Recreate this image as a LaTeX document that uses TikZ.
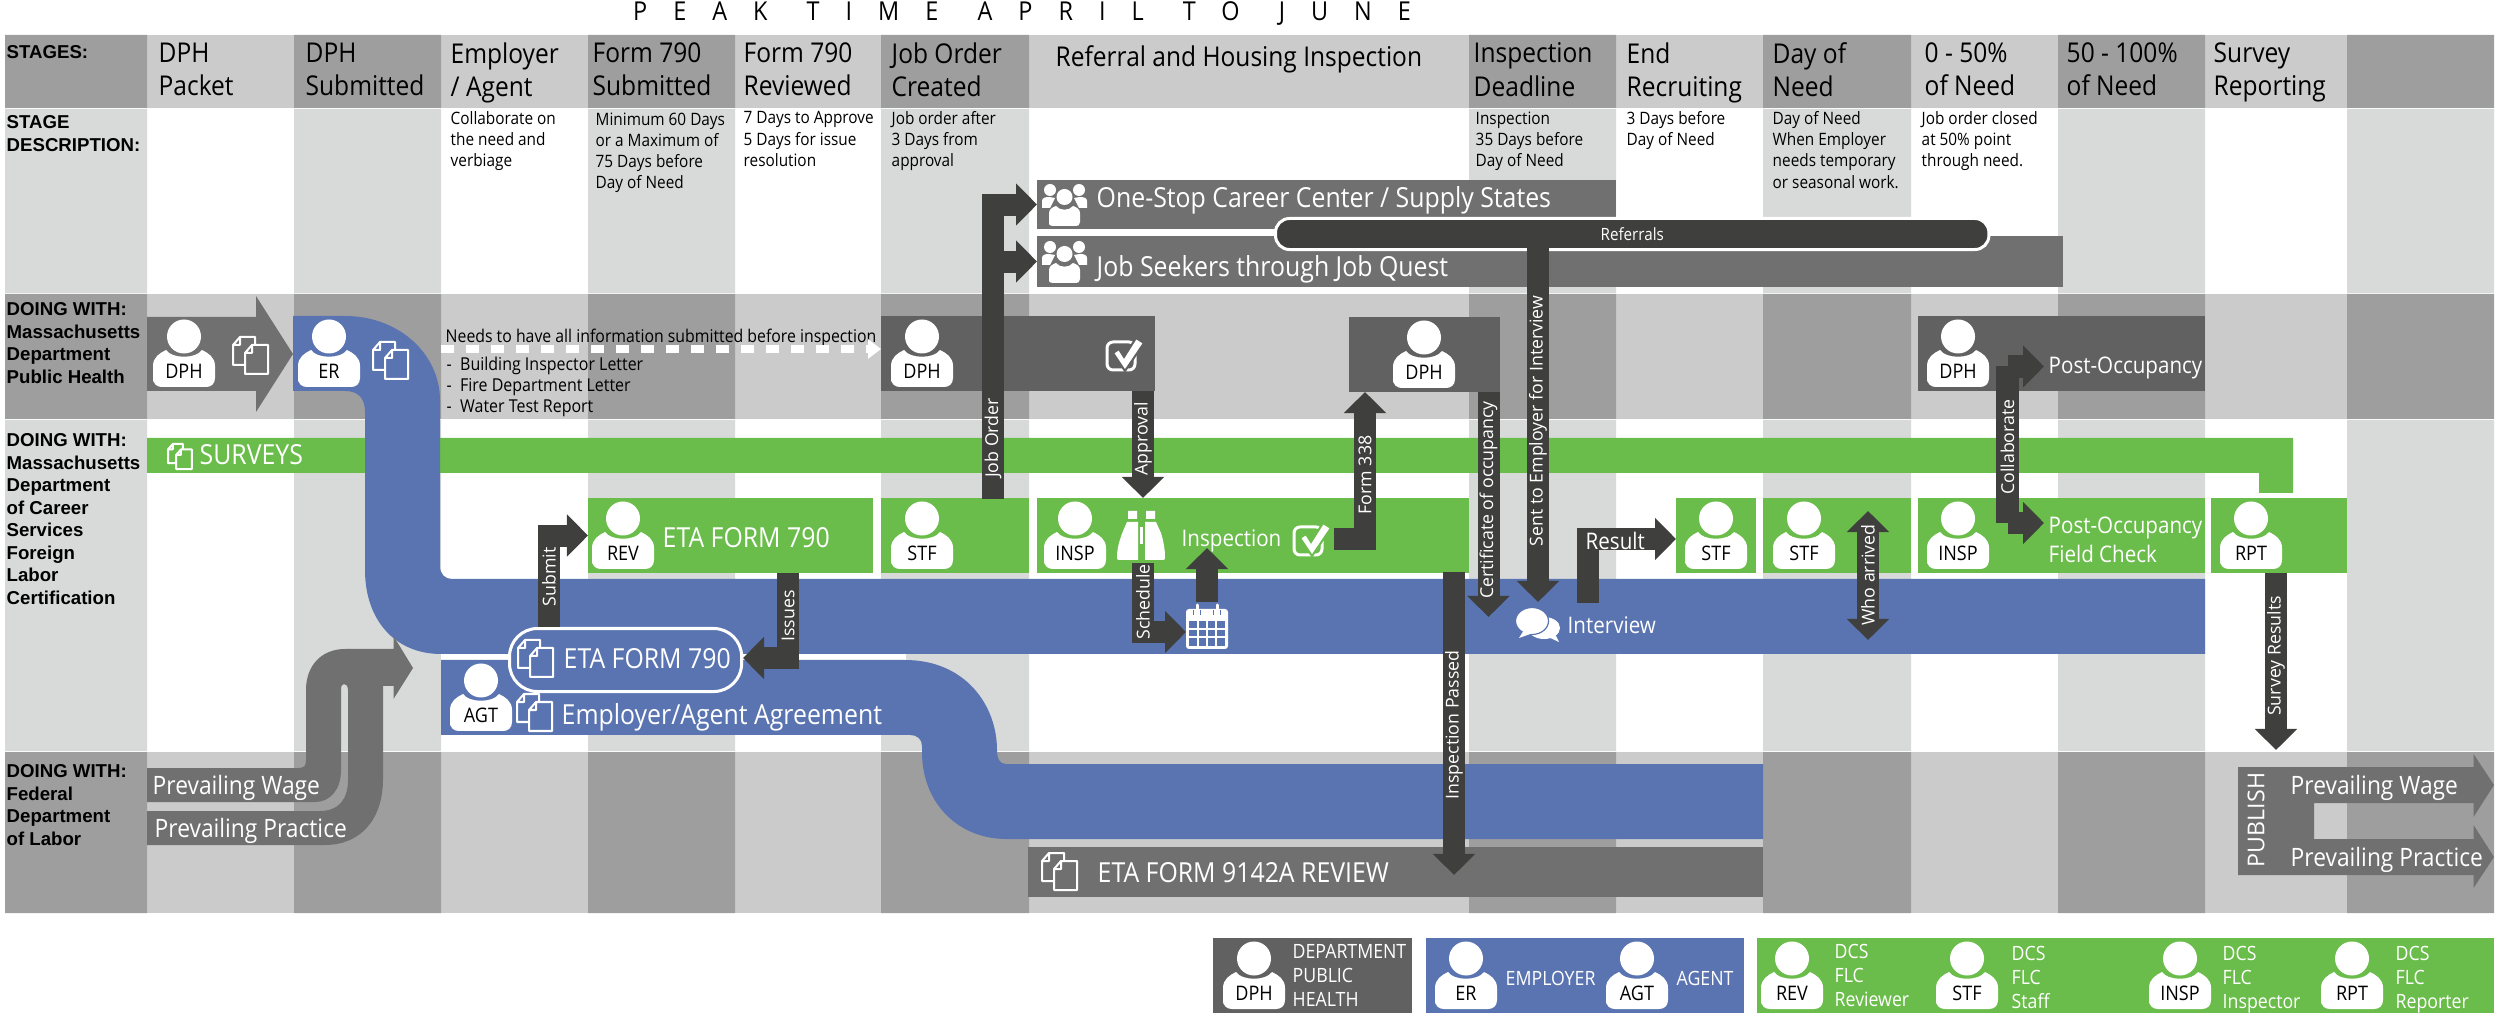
\documentclass[tikz,border=0pt]{standalone}
\usepackage{fontspec}
\usetikzlibrary{arrows.meta}
\setmainfont{Open Sans}[FakeStretch=0.9]
\newfontfamily\rowfont{Liberation Sans}
\newfontfamily\arrowfont{Open Sans}
\definecolor{hdrlight}{HTML}{CBCBCB}
\definecolor{hdrdark}{HTML}{9E9E9E}
\definecolor{colpale}{HTML}{D8DAD9}
\definecolor{boxgrey}{HTML}{616161}
\definecolor{bargrey}{HTML}{707070}
\definecolor{arrowdark}{HTML}{3F403E}
\definecolor{flowblue}{HTML}{5A74B1}
\definecolor{flowgreen}{HTML}{6ABD4A}
\tikzset{
  flowbox/.style={anchor=north west, inner sep=0pt, outer sep=0pt, minimum height=.75cm},
  greenbox/.style={flowbox, fill=flowgreen},
  greybox/.style={flowbox, fill=boxgrey},
  barbox/.style={flowbox, fill=bargrey},
  stagetext/.style={font=\fontsize{7.75}{9.5}\selectfont, align=left, anchor=north west, inner sep=0pt, execute at begin node=\strut},
  desctext/.style={font=\fontsize{4.85}{6}\selectfont, align=left, anchor=north west, inner sep=0pt, execute at begin node=\strut},
  rowtext/.style={font=\rowfont\bfseries\fontsize{5.3}{6.4}\selectfont, align=left, anchor=north west, inner sep=0pt, execute at begin node=\strut},
  bartext/.style={font=\fontsize{7.85}{9}\selectfont, text=white, inner sep=0pt, anchor=mid west},
  midbar/.style={bartext, font=\fontsize{7.2}{9}\selectfont},
  smallbar/.style={bartext, font=\fontsize{6.5}{8}\selectfont},
  legendtext/.style={font=\fontsize{5.6}{6.8}\selectfont, text=white, align=left, inner sep=0pt, anchor=north west, execute at begin node=\strut},
  arrowtext/.style={font=\arrowfont\fontsize{5.05}{6}\selectfont, text=white, inner sep=0pt, rotate=90},
  personlabel/.style={font=\fontsize{5.7}{7}\selectfont, text=black, inner sep=0pt},
  blockarrow/.style={draw=arrowdark, line width=.22cm, -{Triangle[width=.41cm,length=.21cm]}},
}
% person icon: name, centre x, top y, label
\newcommand{\personicon}[4]{%
  \begin{scope}[shift={(#2,#3)}]
    \fill[white] (0,16.5) ellipse [x radius=17, y radius=17];
    \fill[white] (-31,62) -- (-31,46) .. controls (-31,37) and (-24,33) .. (-18,30) .. controls (-12,39) and (12,39) .. (18,30) .. controls (24,33) and (31,37) .. (31,46) -- (31,58) .. controls (31,64) and (27,67) .. (22,67) -- (-22,67) .. controls (-27,67) and (-31,64) .. (-31,58) -- cycle;
    \node[personlabel] (#1) at (0,51) {#4};
  \end{scope}}
% two pages icon: left x, top y, scale
\newcommand{\docsicon}[3]{%
  \begin{scope}[shift={(#1,#2)}, scale=#3]
    \draw[white, line width=.02cm, line join=round] (12,28) -- (0,28) -- (0,8) -- (7,0) -- (22,0) -- (22,8) (7,0) -- (7,8) -- (0,8);
    \draw[white, line width=.02cm, line join=round] (12,16) -- (19,8) -- (35,8) -- (35,37) -- (12,37) -- cycle (19,8) -- (19,16) -- (12,16);
  \end{scope}}
% check box icon: left x, top y, background
\newcommand{\checkicon}[3]{%
  \begin{scope}[shift={(#1,#2)}]
    \draw[white, line width=.03cm, rounded corners=.06cm] (1,4) rectangle (29,32);
    \fill[white, draw=#3, line width=.02cm] (7,15) -- (13,11) -- (18,19) -- (30,0) -- (38,5) -- (19,33) -- cycle;
  \end{scope}}
% group icon: left x, top y
\newcommand{\groupicon}[2]{%
  \begin{scope}[shift={(#1,#2)}]
    \fill[white] (8,6) circle [radius=6] (37,6) circle [radius=6];
    \fill[white] (0,24) -- (0,17) .. controls (0,14) and (3,13) .. (7,13) -- (13,14) -- (8,24) -- cycle;
    \fill[white] (45,24) -- (45,17) .. controls (45,14) and (42,13) .. (38,13) -- (32,14) -- (37,24) -- cycle;
    \fill[white] (22.5,13) circle [radius=8];
    \fill[white] (7,40) -- (7,29) .. controls (7,25) and (11,23) .. (14,22) .. controls (18,27) and (27,27) .. (31,22) .. controls (34,23) and (38,25) .. (38,29) -- (38,38) .. controls (38,41) and (36,42) .. (34,42) -- (11,42) .. controls (9,42) and (7,41) .. (7,40) -- cycle;
  \end{scope}}

\begin{document}
\begin{tikzpicture}[x=.01cm, y=-.01cm]
  \useasboundingbox (0,0) rectangle (2500,1013);
  % Title
  \node[font=\fontsize{7.4}{9}\selectfont\addfontfeature{LetterSpace=100}, inner sep=0pt] (peak) at (1022,14) {PEAK\hspace{2pt} TIME\hspace{2pt} APRIL\hspace{2pt} TO\hspace{2pt} JUNE};
  % Grid - stages
  \fill[hdrlight] (5,35) rectangle (2494,108);
  \fill[hdrdark] (5,35) rectangle (147,108) (294,35) rectangle (441,108) (588,35) rectangle (735,108) (881,35) rectangle (1029,108) (1469,35) rectangle (1616,108) (1763,35) rectangle (1911,108) (2058,35) rectangle (2205,108) (2347,35) rectangle (2494,108);
  % Grid - description
  \fill[colpale] (5,109) rectangle (147,293) (294,109) rectangle (441,293) (588,109) rectangle (735,293) (881,109) rectangle (1029,293) (1469,109) rectangle (1616,293) (1763,109) rectangle (1911,293) (2058,109) rectangle (2205,293) (2347,109) rectangle (2494,293);
  % Grid - public health
  \fill[hdrlight] (5,294) rectangle (2494,419);
  \fill[hdrdark] (5,294) rectangle (147,419) (294,294) rectangle (441,419) (588,294) rectangle (735,419) (881,294) rectangle (1029,419) (1469,294) rectangle (1616,419) (1763,294) rectangle (1911,419) (2058,294) rectangle (2205,419) (2347,294) rectangle (2494,419);
  % Grid - career services
  \fill[colpale] (5,420) rectangle (147,751) (294,420) rectangle (441,751) (588,420) rectangle (735,751) (881,420) rectangle (1029,751) (1469,420) rectangle (1616,751) (1763,420) rectangle (1911,751) (2058,420) rectangle (2205,751) (2347,420) rectangle (2494,751);
  % Grid - labor
  \fill[hdrlight] (5,752) rectangle (2494,913);
  \fill[hdrdark] (5,752) rectangle (147,913) (294,752) rectangle (441,913) (588,752) rectangle (735,913) (881,752) rectangle (1029,913) (1469,752) rectangle (1616,913) (1763,752) rectangle (1911,913) (2058,752) rectangle (2205,913) (2347,752) rectangle (2494,913);

  % Row titles
  \node[rowtext] (rowstages) at (6,42) {STAGES:};
  \node[rowtext] (rowdesc) at (6,115) {STAGE\\DESCRIPTION:};
  \node[rowtext] (rowhealth) at (6,302) {DOING WITH:\\Massachusetts\\Department\\Public Health};
  \node[rowtext] (rowcareer) at (6,433) {DOING WITH:\\Massachusetts\\Department\\of Career\\Services\\Foreign\\Labor\\Certification};
  \node[rowtext] (rowlabor) at (6,764) {DOING WITH:\\Federal\\Department\\of Labor};

  % Stages
  \node[stagetext] (packet) at (158,42) {DPH\\Packet};
  \node[stagetext] (submitted) at (305,42) {DPH\\Submitted};
  \node[stagetext] (employer) at (450,42) {Employer\\/ Agent};
  \node[stagetext] (formsub) at (592,42) {Form 790\\Submitted};
  \node[stagetext] (formrev) at (743,42) {Form 790\\Reviewed};
  \node[stagetext] (joborder) at (891,42) {Job Order\\Created};
  \node[stagetext] (referral) at (1055,42) {Referral and Housing Inspection};
  \node[stagetext] (deadline) at (1473,42) {Inspection\\Deadline};
  \node[stagetext] (recruit) at (1626,42) {End\\Recruiting};
  \node[stagetext] (dayneed) at (1772,42) {Day of\\Need};
  \node[stagetext] (halfneed) at (1924,42) {0 - 50\%\\of Need};
  \node[stagetext] (fullneed) at (2066,42) {50 - 100\%\\of Need};
  \node[stagetext] (survey) at (2213,42) {Survey\\Reporting};

  % Stage descriptions
  \node[desctext] (descemp) at (450,111) {Collaborate on\\the need and\\verbiage};
  \node[desctext] (descsub) at (595,112) {Minimum 60 Days\\or a Maximum  of\\75 Days before\\Day of Need};
  \node[desctext] (descrev) at (743,111) {7 Days to Approve\\5 Days for issue\\resolution};
  \node[desctext] (descjob) at (891,111) {Job order after\\3 Days from\\approval};
  \node[desctext] (descinsp) at (1475,111) {Inspection\\35 Days before\\Day of Need};
  \node[desctext] (descend) at (1626,111) {3 Days before\\Day of Need};
  \node[desctext] (descday) at (1772,111) {Day of Need\\When Employer\\needs temporary\\or seasonal work.};
  \node[desctext] (deschalf) at (1921,111) {Job order closed\\at 50\% point\\through need.};

  % Surveys
  \fill[flowgreen] (147,438) -- (2293,438) -- (2293,493) -- (2259,493) -- (2259,473) -- (147,473) -- cycle;
  \docsicon{168}{444}{.68}
  \node[bartext] (surveys) at (199,455) {SURVEYS};

  % Employer flow
  \fill[flowblue] (293,316) -- (345,316) .. controls (400,316) and (440,355) .. (440,400) -- (440,566) .. controls (440,574) and (445,579) .. (452,579) -- (2205,579) -- (2205,654) -- (441,654) .. controls (395,654) and (365,620) .. (365,570) -- (365,412) .. controls (365,398) and (358,391) .. (345,391) -- (293,391) -- cycle;
  \fill[white] (441,654) rectangle (906,660);
  % Agent flow
  \fill[flowblue] (441,660) -- (905,660) .. controls (965,660) and (997,705) .. (997,750) .. controls (997,759) and (1000,764) .. (1006,764) -- (1763,764) -- (1763,839) -- (1006,839) .. controls (960,839) and (922,805) .. (922,752) -- (922,746) .. controls (922,739) and (917,735) .. (910,735) -- (441,735) -- cycle;

  % Public health
  \fill[bargrey] (147,317) -- (256,317) -- (256,296) -- (293,354) -- (256,412) -- (256,391) -- (147,391) -- cycle;
  \personicon{dphpacket}{184}{320}{DPH}
  \docsicon{233}{337}{1}
  \personicon{er}{329}{320}{ER}
  \docsicon{373}{342}{1}
  \node[greybox, minimum width=2.74cm] (dphjob) at (881,316) {};
  \personicon{dphjobicon}{922}{320}{DPH}
  \checkicon{1106}{338}{boxgrey}
  \node[greybox, minimum width=1.51cm] (dphform) at (1349,317) {};
  \personicon{dphformicon}{1424}{321}{DPH}
  \node[greybox, minimum width=2.87cm] (dphpost) at (1918,316) {};
  \personicon{dphposticon}{1958}{320}{DPH}
  \node[smallbar] (postocc) at (2048,364) {Post-Occupancy};

  % Needs note
  \node[desctext, font=\fontsize{5}{6}\selectfont, anchor=mid west, execute at begin node={}] (needs) at (445,333) {Needs to have all information submitted before inspection};
  \node[desctext, font=\fontsize{5.05}{6}\selectfont] (letters) at (446,356) {-~ Building Inspector Letter\\-~ Fire Department Letter\\-~ Water Test Report};
  \coordinate (needsstart) at (441,349);
  \draw[white, line width=.08cm, dash pattern=on .13cm off .12cm, -{Triangle[width=.19cm,length=.13cm]}] (needsstart) -- (dphjob.west |- needsstart);

  % Referrals
  \node[barbox, minimum width=5.79cm, minimum height=.49cm] (onestop) at (1037,180) {};
  \groupicon{1042}{184}
  \node[bartext] (onestoptext) at (1096,198) {One-Stop Career Center / Supply States};
  \node[barbox, minimum width=10.25cm, minimum height=.51cm] (seekers) at (1037,236) {};
  \groupicon{1042}{241}
  \node[bartext] (seekerstext) at (1096,267) {Job Seekers through Job Quest};
  \node[draw=white, fill=arrowdark, line width=.03cm, rounded corners=.14cm, anchor=north west, inner sep=0pt, minimum width=7.13cm, minimum height=.31cm, font=\fontsize{4.8}{6}\selectfont, text=white] (referrals) at (1274,217) {Referrals};

  % Career services boxes
  \node[greenbox, minimum width=2.85cm] (rev) at (588,498) {};
  \personicon{revicon}{623}{502}{REV}
  \node[bartext] (revtext) at (662,538) {ETA FORM 790};
  \node[greenbox, minimum width=1.48cm] (stfjob) at (881,498) {};
  \personicon{stfjobicon}{922}{502}{STF}
  \node[greenbox, minimum width=4.32cm] (insp) at (1037,498) {};
  \personicon{inspicon}{1075}{502}{INSP}
  % binoculars
  \begin{scope}[shift={(1117,511)}]
    \fill[white] (11,0) rectangle (20,8) (29,0) rectangle (38,8);
    \fill[white] (10,11) -- (21,11) -- (21,49) -- (2,49) .. controls (0,49) and (0,48) .. (0,46) .. controls (0,34) and (5,22) .. (10,11) -- cycle;
    \fill[white] (28,11) -- (39,11) -- (44,22) .. controls (47,32) and (48,40) .. (48,46) .. controls (48,48) and (48,49) .. (46,49) -- (28,49) -- cycle;
    \fill[white] (23,16) rectangle (26,33);
  \end{scope}
  \node[smallbar] (insptext) at (1181,537) {Inspection};
  \checkicon{1293}{523}{flowgreen}
  \node[greenbox, minimum width=.80cm] (stfresult) at (1676,498) {};
  \personicon{stfresulticon}{1716}{502}{STF}
  \node[greenbox, minimum width=1.48cm] (stfneed) at (1763,498) {};
  \personicon{stfneedicon}{1804}{502}{STF}
  \node[greenbox, minimum width=2.87cm] (inspfield) at (1918,498) {};
  \personicon{inspfieldicon}{1958}{502}{INSP}
  \node[smallbar] (fieldtop) at (2048,524) {Post-Occupancy};
  \node[smallbar] (fieldbottom) at (2048,553) {Field Check};
  \node[greenbox, minimum width=1.36cm] (rpt) at (2211,498) {};
  \personicon{rpticon}{2251}{502}{RPT}

  % Blue band contents
  \node[draw=white, fill=flowblue, line width=.03cm, rounded corners=.28cm, anchor=north west, inner sep=0pt, minimum width=2.32cm, minimum height=.63cm] (etapill) at (508,627) {};
  \docsicon{518}{640}{1}
  \node[bartext] (etatext) at (563,659) {ETA FORM 790};
  \personicon{agt}{481}{664}{AGT}
  \docsicon{517}{694}{1}
  \node[bartext] (agreement) at (561,715) {Employer/Agent Agreement};
  % calendar
  \begin{scope}[shift={(1186,604)}]
    \fill[white, rounded corners=.03cm] (0,5) rectangle (42,45);
    \fill[flowblue] (3,17) rectangle (39,42);
    \draw[white, line width=.015cm] (12,17) -- (12,42) (21,17) -- (21,42) (30,17) -- (30,42) (3,25) -- (39,25) (3,33) -- (39,33);
    \draw[white, line width=.03cm, line cap=round] (11,1) -- (11,10) (31,1) -- (31,10);
    \draw[flowblue, line width=.01cm] (7.5,6) -- (7.5,11) (14.5,6) -- (14.5,11) (27.5,6) -- (27.5,11) (34.5,6) -- (34.5,11);
  \end{scope}
  % speech bubbles
  \begin{scope}[shift={(1516,608)}]
    \fill[white] (28,20) ellipse [x radius=16, y radius=11];
    \fill[white] (30,28) -- (43,34) -- (38,24) -- cycle;
    \fill[white, draw=flowblue, line width=.012cm] (16,13) ellipse [x radius=16.5, y radius=13.5];
    \fill[white] (8,22) -- (3,30) -- (17,25) -- cycle;
  \end{scope}
  \node[smallbar] (interview) at (1567,624) {Interview};

  % Prevailing flows
  \fill[bargrey] (147,768) -- (298,768) .. controls (304,768) and (306,766) .. (306,760) -- (306,690) .. controls (306,665) and (322,649) .. (345,649) -- (393.5,649) -- (393.5,636) -- (413,668) -- (393.5,699) -- (393.5,686) -- (383,686) -- (383,779) .. controls (383,820) and (360,845) .. (325,845) -- (147,845) -- (147,811) -- (320,811) .. controls (338,811) and (348,800) .. (348,780) -- (348,690) .. controls (348,686) and (346,684) .. (344,684) .. controls (342,684) and (341,686) .. (341,690) -- (341,770) .. controls (341,790) and (330,802) .. (315,802) -- (147,802) -- cycle;
  \node[midbar] (wage) at (152,785) {Prevailing Wage};
  \node[midbar] (practice) at (154,828) {Prevailing Practice};
  \node[barbox, minimum width=7.35cm, minimum height=.50cm] (review) at (1028,847) {};
  \docsicon{1042}{853}{1}
  \node[bartext] (reviewtext) at (1097,873) {ETA FORM 9142A REVIEW};

  % Publish
  \fill[bargrey] (2238,767) -- (2473.5,767) -- (2473.5,754) -- (2494,785) -- (2473.5,817) -- (2473.5,803) -- (2314,803) -- (2314,839) -- (2473.5,839) -- (2473.5,825) -- (2494,857) -- (2473.5,888) -- (2473.5,875) -- (2238,875) -- cycle;
  \node[font=\arrowfont\fontsize{6.6}{8}\selectfont, text=white, inner sep=0pt, rotate=90] (publish) at (2256,820) {PUBLISH};
  \node[midbar] (pubwage) at (2290,785) {Prevailing Wage};
  \node[midbar] (pubpractice) at (2290,857) {Prevailing Practice};

  % Arrows
  \coordinate (submitfoot) at (549,627);
  \draw[blockarrow] (submitfoot) |- (rev.west);
  \node[arrowtext] (submit) at (549,577) {Submit};
  \coordinate (issuesfoot) at (788,573);
  \coordinate (issuestip) at (743,658);
  \draw[blockarrow] (issuesfoot) |- (issuestip);
  \node[arrowtext] (issues) at (788,616) {Issues};
  \coordinate (jobfoot) at (993,499);
  \draw[blockarrow] (jobfoot) |- (onestop.west);
  \draw[blockarrow] (jobfoot) |- (seekers.west);
  \node[arrowtext] (joblabel) at (993,438) {Job Order};
  \coordinate (approvaltop) at (1143,391);
  \coordinate (approvaltip) at (1143,498);
  \draw[blockarrow] (approvaltop) -- (approvaltip);
  \node[arrowtext] (approval) at (1143,439) {Approval};
  \coordinate (formfoot) at (1334,539);
  \coordinate (formtip) at (1365,392);
  \draw[blockarrow] (formfoot) -| (formtip);
  \node[arrowtext] (form) at (1365,475) {Form 338};
  \coordinate (certtop) at (1488.5,392);
  \coordinate (certtip) at (1488.5,617);
  \draw[blockarrow] (certtop) -- (certtip);
  \node[arrowtext] (cert) at (1488.5,500) {Certificate of occupancy};
  \coordinate (senttop) at (1538,248);
  \coordinate (senttip) at (1538,602);
  \draw[blockarrow] (senttop) -- (senttip);
  \node[arrowtext] (sent) at (1538,421) {Sent to Employer for Interview};
  \coordinate (passedtop) at (1454,572);
  \coordinate (passedtip) at (1454,875);
  \draw[blockarrow] (passedtop) -- (passedtip);
  \node[arrowtext] (passed) at (1454,725) {Inspection Passed};
  \coordinate (schedtop) at (1143,563);
  \coordinate (schedtip) at (1186,632);
  \draw[blockarrow] (schedtop) |- (schedtip);
  \node[arrowtext] (schedule) at (1143,602) {Schedule};
  \coordinate (calfoot) at (1207,602);
  \coordinate (caltip) at (1207,548);
  \draw[blockarrow] (calfoot) -- (caltip);
  \coordinate (resultfoot) at (1588,603);
  \coordinate (resulttip) at (1676,539);
  \draw[blockarrow] (resultfoot) |- (resulttip);
  \node[smallbar] (result) at (1585,540) {Result};
  \coordinate (whotop) at (1868,511);
  \coordinate (whobottom) at (1868,640);
  \draw[blockarrow, {Triangle[width=.41cm,length=.21cm]}-{Triangle[width=.41cm,length=.21cm]}] (whotop) -- (whobottom);
  \node[arrowtext] (who) at (1868,575) {Who arrived};
  \coordinate (collabtop) at (2007.5,366.5);
  \coordinate (collabbottom) at (2007.5,523);
  \coordinate (collabtiptop) at (2044,366.5);
  \coordinate (collabtipbottom) at (2044,523);
  \draw[arrowdark, line width=.23cm] (collabtop) -- (collabbottom);
  \draw[blockarrow] (collabtop) -- (collabtiptop);
  \draw[blockarrow] (collabbottom) -- (collabtipbottom);
  \node[arrowtext] (collab) at (2007.5,447) {Collaborate};
  \coordinate (surveytop) at (2276,573);
  \coordinate (surveytip) at (2276,750);
  \draw[blockarrow] (surveytop) -- (surveytip);
  \node[arrowtext] (surveyres) at (2276,656) {Survey Results};

  % Legend
  \node[greybox, minimum width=1.99cm] (legdph) at (1213,938) {};
  \personicon{legdphicon}{1254}{942}{DPH}
  \node[legendtext] (legdphtext) at (1292,944) {DEPARTMENT\\PUBLIC\\HEALTH};
  \node[flowbox, fill=flowblue, minimum width=3.185cm] (legblue) at (1425.5,938) {};
  \personicon{legericon}{1466}{942}{ER}
  \node[legendtext] (legertext) at (1505,968) {EMPLOYER};
  \personicon{legagticon}{1637}{942}{AGT}
  \node[legendtext] (legagttext) at (1676,968) {AGENT};
  \node[greenbox, minimum width=7.37cm] (leggreen) at (1757,938) {};
  \personicon{legrevicon}{1792}{942}{REV}
  \node[legendtext] (legrevtext) at (1834,944) {DCS\\FLC\\Reviewer};
  \personicon{legstficon}{1967}{942}{STF}
  \node[legendtext] (legstftext) at (2011,946) {DCS\\FLC\\Staff};
  \personicon{leginspicon}{2180}{942}{INSP}
  \node[legendtext] (leginsptext) at (2222,946) {DCS\\FLC\\Inspector};
  \personicon{legrpticon}{2352}{942}{RPT}
  \node[legendtext] (legrpttext) at (2395,946) {DCS\\FLC\\Reporter};
\end{tikzpicture}
\end{document}
